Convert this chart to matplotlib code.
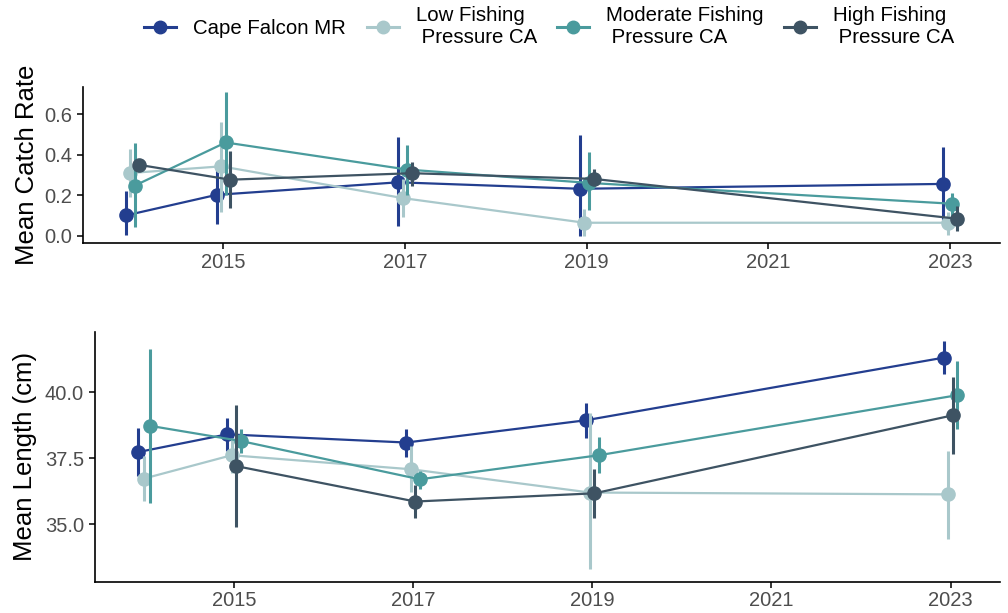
import matplotlib
matplotlib.use("Agg")
import matplotlib.pyplot as plt
import numpy as np
from matplotlib.lines import Line2D

plt.rcParams["font.family"] = ["Liberation Sans", "DejaVu Sans"]

SITES = ["Cape Falcon MR", "Low Fishing\n Pressure CA", "Moderate Fishing\n Pressure CA", "High Fishing\n Pressure CA"]
COLORS = ["#233E8F", "#A9C8CB", "#4A9B9D", "#3E5363"]

# catch rate (CPUE) per site: years, mean, lower, upper
CATCH_YEARS = [2014, 2015, 2017, 2019, 2023]
catch_mean = [
    [0.100, 0.202, 0.264, 0.232, 0.256],
    [0.310, 0.343, 0.186, 0.064, 0.064],
    [0.248, 0.461, 0.327, 0.261, 0.158],
    [0.350, 0.277, 0.309, 0.281, 0.084],
]
catch_lo = [
    [0.002, 0.059, 0.046, 0.000, 0.067],
    [0.190, 0.117, 0.092, 0.000, 0.005],
    [0.043, 0.199, 0.199, 0.125, 0.084],
    [0.320, 0.136, 0.248, 0.250, 0.021],
]
catch_hi = [
    [0.223, 0.346, 0.486, 0.497, 0.440],
    [0.430, 0.563, 0.280, 0.130, 0.117],
    [0.458, 0.711, 0.450, 0.415, 0.210],
    [0.380, 0.420, 0.366, 0.330, 0.146],
]

# mean length per site (High Fishing has no 2014 sample)
LEN_YEARS = [
    [2014, 2015, 2017, 2019, 2023],
    [2014, 2015, 2017, 2019, 2023],
    [2014, 2015, 2017, 2019, 2023],
    [2015, 2017, 2019, 2023],
]
len_mean = [
    [37.73, 38.40, 38.09, 38.93, 41.30],
    [36.73, 37.61, 37.08, 36.20, 36.13],
    [38.72, 38.15, 36.70, 37.61, 39.88],
    [37.20, 35.86, 36.17, 39.12],
]
len_lo = [
    [36.83, 37.77, 37.56, 38.28, 40.67],
    [35.88, 36.95, 36.22, 33.30, 34.45],
    [35.82, 37.68, 36.32, 36.95, 38.59],
    [34.91, 35.23, 35.22, 37.65],
]
len_hi = [
    [38.65, 39.03, 38.62, 39.57, 41.93],
    [37.58, 38.28, 37.96, 39.19, 37.77],
    [41.61, 38.62, 37.01, 38.31, 41.17],
    [39.50, 36.47, 37.08, 40.58],
]

# dodge offsets (years) per site in each panel
DODGE_TOP = [-0.075, -0.025, 0.025, 0.075]
DODGE_BOT = [-0.075, -0.025, 0.075, 0.025]
DODGE_BOT_2014 = [-0.067, 0.0, 0.067, 0.0]

fig = plt.figure(figsize=(10.08, 6.13), dpi=100)
ax1 = fig.add_axes([0.0820, 0.603, 0.910, 0.2556])
ax2 = fig.add_axes([0.0942, 0.0511, 0.8978, 0.4078])


def draw(ax, years, mean, lo, hi, dodge, first_year_dodge=None):
    for k in range(len(SITES)):
        x = np.array(years[k], dtype=float)
        off = np.full(len(x), dodge[k])
        if first_year_dodge is not None:
            off[x == 2014] = first_year_dodge[k]
        x = x + off
        m = np.array(mean[k])
        ax.plot(x, m, color=COLORS[k], lw=1.6, zorder=2 + k)
        ax.vlines(x, lo[k], hi[k], color=COLORS[k], lw=2.2, zorder=2 + k)
        ax.plot(x, m, "o", color=COLORS[k], ms=9.5, zorder=2 + k)


draw(ax1, [CATCH_YEARS] * 4, catch_mean, catch_lo, catch_hi, DODGE_TOP)
draw(ax2, LEN_YEARS, len_mean, len_lo, len_hi, DODGE_BOT, DODGE_BOT_2014)

for ax in (ax1, ax2):
    ax.set_xlim(2013.45, 2023.55)
    ax.set_xticks([2015, 2017, 2019, 2021, 2023])
    for s in ("top", "right"):
        ax.spines[s].set_visible(False)
    for s in ("left", "bottom"):
        ax.spines[s].set_linewidth(1.2)
    ax.tick_params(length=4.3, width=1.1, color="black", labelcolor="#4D4D4D", labelsize=14.5)
    ax.tick_params(axis="x", pad=2.5)
    ax.tick_params(axis="y", pad=3.5)

ax1.set_ylim(-0.038, 0.737)
ax1.set_yticks([0.0, 0.2, 0.4, 0.6])
ax1.set_yticklabels(["0.0", "0.2", "0.4", "0.6"])
ax1.set_ylabel("Mean Catch Rate", fontsize=18.5)
ax1.yaxis.set_label_coords(-0.0476, 0.5)

ax2.set_ylim(32.83, 42.28)
ax2.set_yticks([35.0, 37.5, 40.0])
ax2.set_yticklabels(["35.0", "37.5", "40.0"])
ax2.set_ylabel("Mean Length (cm)", fontsize=18.5)
ax2.yaxis.set_label_coords(-0.064, 0.5)

handles = [Line2D([], [], color=c, lw=2.2, marker="o", ms=9) for c in COLORS]
fig.legend(handles, SITES, loc="center", bbox_to_anchor=(0.545, 0.956), ncol=4,
           frameon=False, fontsize=14.7, handlelength=1.57, handletextpad=0.83,
           columnspacing=1.0, labelspacing=0.2, borderpad=0.2)

fig.savefig("out.png", dpi=100)
